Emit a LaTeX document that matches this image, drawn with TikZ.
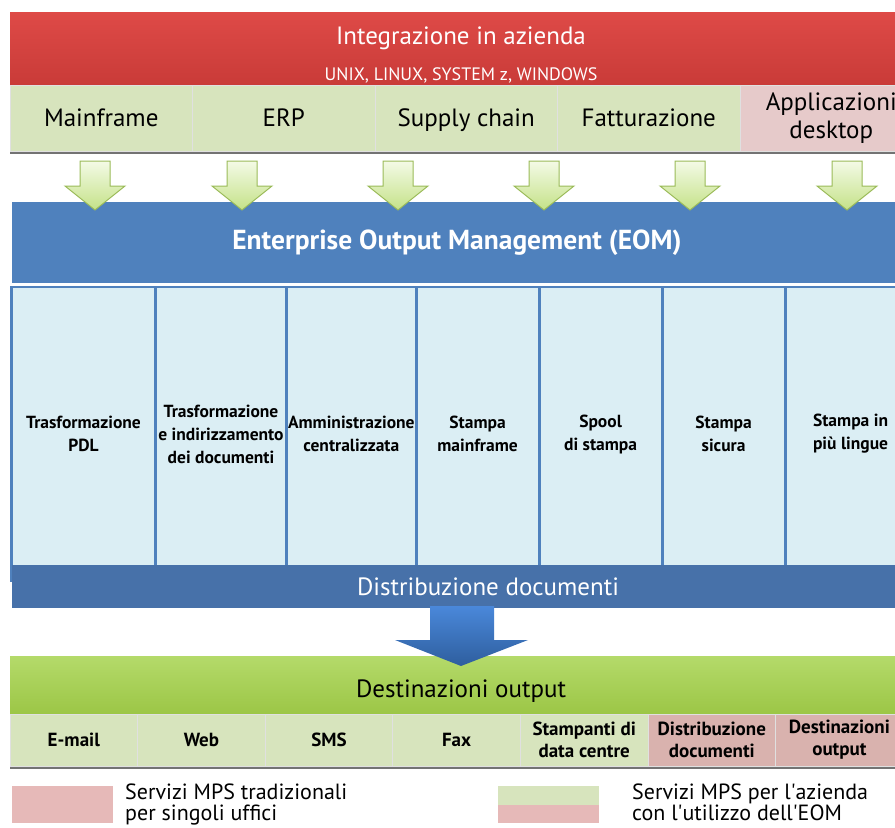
\documentclass[tikz,border=0pt]{standalone}
\usepackage{fontspec}
\setmainfont{PT Sans}
\usetikzlibrary{positioning}

\definecolor{redtop}{HTML}{DE4A47}
\definecolor{redbot}{HTML}{C93B38}
\definecolor{appgreen}{HTML}{D7E4BD}
\definecolor{apppink}{HTML}{E6CACA}
\definecolor{eomblue}{HTML}{4F81BD}
\definecolor{distblue}{HTML}{4771A9}
\definecolor{colblue}{HTML}{DBEEF4}
\definecolor{desttop}{HTML}{B4DA6A}
\definecolor{destbot}{HTML}{9CC646}
\definecolor{destpink}{HTML}{D9B2AE}
\definecolor{legpink}{HTML}{E6B9B8}
\definecolor{arrowline}{HTML}{9BBB59}
\definecolor{arrowtop}{HTML}{F4FAE6}
\definecolor{arrowbot}{HTML}{C4E288}
\definecolor{bigtop}{HTML}{4A88DA}
\definecolor{bigbot}{HTML}{2E5E9E}

\tikzset{
  band/.style={rectangle, anchor=north west, inner sep=0pt, outer sep=0pt},
  appcell/.style={rectangle, draw=black!12, line width=0.8pt, fill=appgreen, minimum width=182.5, minimum height=66,
    inner sep=0pt, outer sep=0pt, align=center, font=\fontsize{25}{28}\selectfont},
  eomcol/.style={rectangle, fill=colblue, minimum height=292, inner sep=0pt, outer sep=0pt, align=center,
    font=\bfseries\fontsize{17.5}{23}\selectfont},
  destcell/.style={rectangle, draw=black!12, line width=0.8pt, fill=appgreen, minimum width=127.6, minimum height=52,
    inner sep=0pt, outer sep=0pt, align=center, font=\bfseries\fontsize{19}{22}\selectfont},
  greenarrow/.style={draw=arrowline, line width=1pt, top color=arrowtop, bottom color=arrowbot, line join=miter},
  legbox/.style={rectangle, anchor=north west, minimum width=101, minimum height=37, inner sep=0pt, outer sep=0pt},
  legtext/.style={anchor=north west, align=left, inner sep=0pt, font=\fontsize{22}{21}\selectfont},
}

\begin{document}
\begin{tikzpicture}[x=1pt, y=-1pt]
    \useasboundingbox (0,0) rectangle (895,828);
    \fill[white] (0,0) rectangle (895,828);

    % integrazione in azienda
    \node[band, minimum width=902, minimum height=73, top color=redtop, bottom color=redbot] (integ) at (10,12) {};
    \node[anchor=base, text=white, font=\fontsize{25}{25}\selectfont] (integtitle) at (461,44) {Integrazione in azienda};
    \node[anchor=base, text=white, font=\fontsize{18}{18}\selectfont] (integsys) at (461,80) {UNIX, LINUX, SYSTEM z, WINDOWS};

    \fill[black!55] (10,88) rectangle (912,154);
    \node[appcell, anchor=north west] (mainframe) at (10,85) {Mainframe};
    \node[appcell, right=0pt of mainframe] (erp) {ERP};
    \node[appcell, right=0pt of erp, text depth=0pt] (supply) {Supply chain};
    \node[appcell, right=0pt of supply] (fatt) {Fatturazione};
    \node[appcell, right=0pt of fatt, fill=apppink] (desktop) {Applicazioni\\desktop};

    % EOM
    \node[band, minimum width=890, minimum height=81, fill=eomblue, text=white,
          font=\bfseries\fontsize{27.5}{27.5}\selectfont] (eom) at (12,202) {Enterprise Output Management (EOM)};
    \foreach \x in {95,242,398,544,690,847}
        \draw[greenarrow] (\x-15,161) -- (\x+15,161) -- (\x+15,186) -- (\x+30,186) -- (\x,210)
            -- (\x-30,186) -- (\x-15,186) -- cycle;

    \fill[eomblue] (10,286) rectangle (912,582);
    \node[eomcol, anchor=north west, minimum width=141] (pdl) at (13,288) {Trasformazione\\PDL};
    \node[eomcol, right=3pt of pdl, minimum width=128] (indir) {Trasformazione\\e indirizzamento\\dei documenti};
    \node[eomcol, right=3pt of indir, minimum width=126] (ammin) {Amministrazione\\centralizzata};
    \node[eomcol, right=3pt of ammin, minimum width=120] (mainst) {Stampa\\mainframe};
    \node[eomcol, right=3pt of mainst, minimum width=120] (spool) {Spool\\di stampa};
    \node[eomcol, right=3pt of spool, minimum width=120] (sicura) {Stampa\\sicura};
    \node[eomcol, right=3pt of sicura, minimum width=128] (lingue) {Stampa in\\più lingue};

    \node[band, minimum width=952, minimum height=43, fill=distblue, text=white,
          font=\fontsize{25}{25}\selectfont] (dist) at (12,565) {Distribuzione documenti};

    % destinazioni output
    \node[band, minimum width=902, minimum height=58, top color=desttop, bottom color=destbot,
          font=\fontsize{25}{25}\selectfont, text height=24pt, text depth=0pt] (dest) at (10,656) {Destinazioni output};
    \draw[draw=none, top color=bigtop, bottom color=bigbot] (430,606) -- (494,606) -- (494,640) -- (528,640)
        -- (461,666) -- (395,640) -- (430,640) -- cycle;

    \fill[black!55] (10,717) rectangle (912,769);
    \node[destcell, anchor=north west] (email) at (10,714) {E-mail};
    \node[destcell, right=0pt of email] (web) {Web};
    \node[destcell, right=0pt of web] (sms) {SMS};
    \node[destcell, right=0pt of sms] (fax) {Fax};
    \node[destcell, right=0pt of fax] (datacentre) {Stampanti di\\data centre};
    \node[destcell, right=0pt of datacentre, fill=destpink] (distdoc) {Distribuzione\\documenti};
    \node[destcell, right=0pt of distdoc, fill=destpink] (destout) {Destinazioni\\output};

    % legenda
    \node[legbox, fill=legpink] (legtrad) at (12,786) {};
    \node[legtext] (legtradtext) at (125,784) {Servizi MPS tradizionali\\per singoli uffici};
    \node[legbox, fill=appgreen, minimum height=19] (legeomtop) at (498,786) {};
    \node[legbox, fill=legpink, minimum height=18, below=0pt of legeomtop] (legeombot) {};
    \node[legtext] (legeomtext) at (632,784) {Servizi MPS per l\textquotesingle azienda\\con l\textquotesingle utilizzo dell\textquotesingle EOM};
\end{tikzpicture}
\end{document}
